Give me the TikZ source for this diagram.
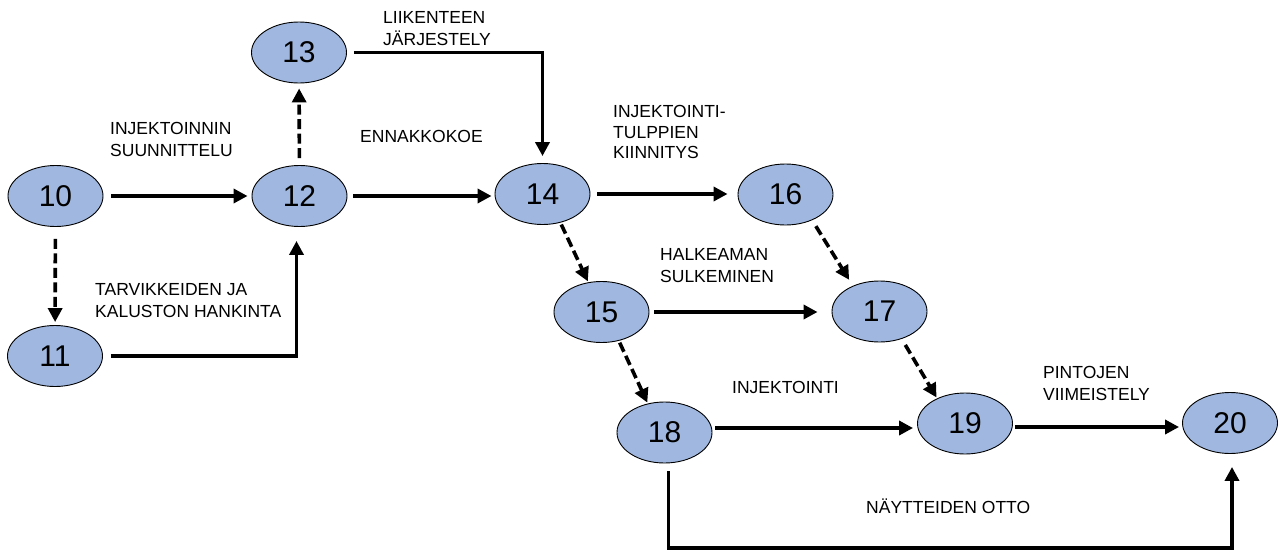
\documentclass[tikz,border=0pt]{standalone}
\usepackage{fontspec}
\setmainfont{Liberation Sans}
\usetikzlibrary{shapes.geometric,arrows.meta}
\definecolor{nodefill}{RGB}{160,184,224}
\begin{document}
\begin{tikzpicture}[x=1pt,y=-1pt,
  ev/.style={ellipse,draw=black,line width=0.9pt,fill=nodefill,minimum width=95pt,minimum height=61pt,inner sep=0pt,font=\fontsize{30}{30}\selectfont},
  lbl/.style={anchor=base west,inner sep=0pt,font=\fontsize{17.5}{20}\selectfont},
  arr/.style={line width=3.6pt,-{Triangle[length=14pt,width=14pt]}},
  darr/.style={arr,dash pattern=on 10pt off 4.5pt},
]
\useasboundingbox (0,0) rectangle (1278,552);
% events
\node[ev] (n10) at (55.5,196) {10};
\node[ev] (n11) at (55,356) {11};
\node[ev] (n12) at (299.5,196) {12};
\node[ev] (n13) at (299,52.5) {13};
\node[ev] (n14) at (542.5,194) {14};
\node[ev] (n15) at (601.5,312) {15};
\node[ev] (n16) at (785.5,194.5) {16};
\node[ev] (n17) at (879.5,311.5) {17};
\node[ev] (n18) at (664.5,432.5) {18};
\node[ev] (n19) at (965,423.5) {19};
\node[ev] (n20) at (1230,423) {20};
\coordinate (bot) at (0,548);
% connectors
\draw[arr,shorten <=8pt,shorten >=4pt] (n10) -- (n12);
\draw[darr,shorten <=12pt,shorten >=3pt] (n10) -- (n11);
\draw[arr,shorten <=8pt,shorten >=14pt] (n11.east) -| ([xshift=-3pt]n12.south);
\draw[darr,shorten <=7pt,shorten >=5pt] (n12) -- (n13);
\draw[arr,shorten <=7pt,shorten >=7pt] (n13.east) -| (n14.north);
\draw[arr,shorten <=6pt,shorten >=3pt] (n12.east) -- (n12.east -| n14.west);
\draw[arr,shorten <=7pt,shorten >=10pt] (n14.east) -- (n14.east -| n16.west);
\draw[darr,shorten <=2pt,shorten >=1pt] (n14.-58) -- (n15.114);
\draw[darr,shorten <=7pt,shorten >=7pt] (n16.-44) -- (n17.136);
\draw[arr,shorten <=5pt,shorten >=14pt] (n15.east) -- (n15.east -| n17.west);
\draw[darr,shorten <=2pt,shorten >=1pt] (n15.-59) -- (n18.120);
\draw[darr,shorten <=7pt,shorten >=1pt] (n17.-51) -- (n19.138);
\draw[arr,shorten <=3pt,shorten >=4pt] ([yshift=4.5pt]n18.east) -- ([yshift=4.5pt]n18.east -| n19.west);
\draw[arr,shorten <=2pt,shorten >=3pt] ([yshift=-3.5pt]n19.east) -- ([yshift=-3.5pt]n19.east -| n20.west);
\draw[arr,shorten <=8pt,shorten >=13pt] ([xshift=4pt]n18.south) -- ([xshift=4pt]n18.south |- bot) -| ([xshift=2pt]n20.south);
% labels
\node[lbl] (t1a) at (110,134) {INJEKTOINNIN};
\node[lbl] (t1b) at (110,156) {SUUNNITTELU};
\node[lbl] (t2a) at (383,23) {LIIKENTEEN};
\node[lbl] (t2b) at (383,45) {JÄRJESTELY};
\node[lbl] (t3) at (360,142) {ENNAKKOKOE};
\node[lbl] (t4a) at (613,117) {INJEKTOINTI-};
\node[lbl] (t4b) at (613,138) {TULPPIEN};
\node[lbl] (t4c) at (613,158) {KIINNITYS};
\node[lbl] (t5a) at (95,295) {TARVIKKEIDEN JA};
\node[lbl] (t5b) at (95,317) {KALUSTON HANKINTA};
\node[lbl] (t6a) at (660,260) {HALKEAMAN};
\node[lbl] (t6b) at (660,282) {SULKEMINEN};
\node[lbl] (t7) at (732,393) {INJEKTOINTI};
\node[lbl] (t8) at (866,513) {NÄYTTEIDEN OTTO};
\node[lbl] (t9a) at (1043,378) {PINTOJEN};
\node[lbl] (t9b) at (1043,400) {VIIMEISTELY};
\end{tikzpicture}
\end{document}
